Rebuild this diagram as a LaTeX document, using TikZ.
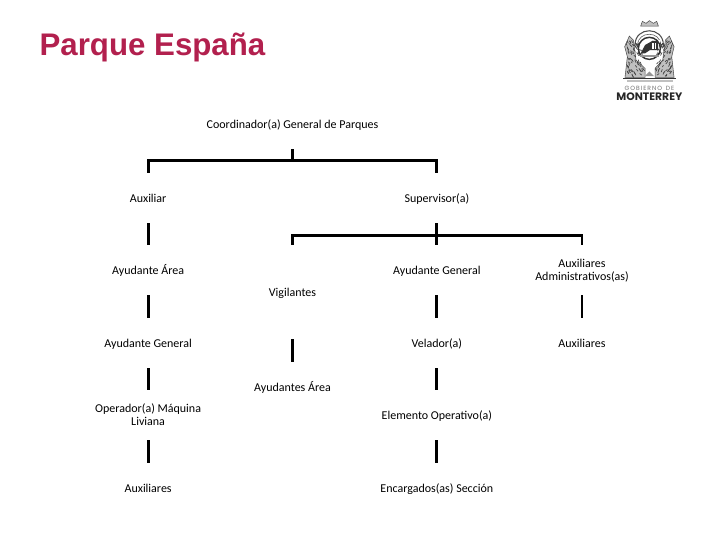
\documentclass[tikz,border=0pt]{standalone}
\usepackage{fontspec}
\setmainfont{Carlito}
\newfontfamily\titlefont{Liberation Sans}
\newfontfamily\logofont{Poppins}
\usepackage{xcolor}
\usepackage{tikz}
\usetikzlibrary{calc}
\definecolor{parquered}{RGB}{178,32,78}
\definecolor{crestgray}{RGB}{150,150,150}
\tikzstyle{orgbox} = [inner sep=0pt, minimum width=3cm, minimum height=1.33cm, align=center, text height=7.4pt, text depth=0.8pt, font=\fontsize{9.1}{9.9}\selectfont]
\tikzstyle{tworow} = [orgbox, text height=17.3pt]
\tikzstyle{tallbox} = [orgbox, minimum height=2.5cm]
\tikzstyle{link} = [line width=2.2pt]
\tikzstyle{crest} = [line width=0.4pt, draw=black!70, fill=crestgray!60]

\begin{document}
\begin{tikzpicture}[x=1cm,y=1cm]
    \useasboundingbox (0,0) rectangle (19.2,14.4);
    \node[anchor=west, inner sep=0pt, text=parquered, font=\titlefont\bfseries\fontsize{23.7}{28}\selectfont] (title) at (1.05,13.14) {Parque España};

    % left branch
    \node[orgbox] (coord) at (7.8,11.09) {Coordinador(a) General de Parques};
    \node[orgbox] (aux) at (3.95,9.12) {Auxiliar};
    \node[orgbox] (ayarea) at (3.95,7.2) {Ayudante Área};
    \node[orgbox] (aygenl) at (3.95,5.25) {Ayudante General};
    \node[tworow] (oper) at (3.95,3.33) {Operador(a) Máquina\\Liviana};
    \node[orgbox] (auxl) at (3.95,1.39) {Auxiliares};

    % middle branch
    \node[tallbox] (vig) at (7.8,6.61) {Vigilantes};
    \node[orgbox] (ayareas) at (7.8,4.08) {Ayudantes Área};

    % supervisor branch
    \node[orgbox] (sup) at (11.65,9.12) {Supervisor(a)};
    \node[orgbox] (aygen) at (11.65,7.2) {Ayudante General};
    \node[orgbox] (vel) at (11.65,5.25) {Velador(a)};
    \node[orgbox] (elem) at (11.65,3.33) {Elemento Operativo(a)};
    \node[orgbox] (enc) at (11.65,1.39) {Encargados(as) Sección};

    % right branch
    \node[tworow] (adm) at (15.52,7.2) {Auxiliares\\Administrativos(as)};
    \node[orgbox] (auxr) at (15.52,5.25) {Auxiliares};

    \coordinate (topbar) at (7.8,10.11);
    \coordinate (supbar) at (11.65,8.13);

    \draw[link] (coord.south) -- (topbar);
    \draw[link] (aux.north) |- (topbar) -| (sup.north);
    \draw[link] (sup.south) -- (aygen.north);
    \draw[link] (vig.north) |- (supbar) -| (adm.north);

    \draw[link] (aux.south) -- (ayarea.north);
    \draw[link] (ayarea.south) -- (aygenl.north);
    \draw[link] (aygenl.south) -- (oper.north);
    \draw[link] (oper.south) -- (auxl.north);
    \draw[link] (vig.south) -- (ayareas.north);
    \draw[link] (aygen.south) -- (vel.north);
    \draw[link] (vel.south) -- (elem.north);
    \draw[link] (elem.south) -- (enc.north);
    \draw[link] (adm.south) -- (auxr.north);

    % crest
    \begin{scope}[shift={(15.733,14.4)}, x=0.00889cm, y=-0.00889cm]
        \pgfmathsetseed{7}
        \filldraw[crest] (152,78) -- (157,64) -- (168,70) -- (178,62) -- (190,70) -- (200,64) -- (205,78) -- cycle;
        \draw[line width=0.8pt, black!70] (135,135) .. controls (135,78) and (220,78) .. (220,135);
        \draw[line width=0.5pt, black!60] (143,135) .. controls (143,92) and (212,92) .. (212,135);
        \filldraw[crest] (118,108) -- (130,120) -- (138,180) -- (165,205) -- (165,232) -- (105,232) -- (112,170) -- (104,140) -- cycle;
        \filldraw[crest] (238,108) -- (226,120) -- (218,180) -- (195,205) -- (195,232) -- (252,232) -- (245,170) -- (252,140) -- cycle;
        % stipple on the figures
        \foreach \i in {1,...,70} {
            \pgfmathsetmacro{\sx}{108+rnd*50}
            \pgfmathsetmacro{\sy}{115+rnd*112}
            \draw[line width=0.5pt, black!75] (\sx,\sy) -- ++(2+rnd*5,4+rnd*6);
            \draw[line width=0.5pt, black!75] (356-\sx,\sy) -- ++(-2-rnd*5,4+rnd*6);
        }
        \fill[white] (146,120) -- (166,185) -- (170,205) -- (188,205) -- (192,185) -- (212,120) -- cycle;
        \draw[line width=1.1pt, black!80] (178,145) circle (33);
        \fill[black!80] (152,160) -- (165,135) -- (188,122) -- (203,124) -- (205,150) -- (180,150) -- (165,160) -- cycle;
        \fill[white] (187,128) rectangle (191,148);
        \fill[white] (196,128) rectangle (199,148);
        \fill[crestgray] (150,164) rectangle (206,172);
        \fill[black!80] (100,234) rectangle (258,238);
        \fill[crestgray] (165,228) -- (178,214) -- (192,228) -- cycle;
        \fill[crestgray!60] (110,240) rectangle (248,245);
        \node[anchor=center, inner sep=0pt, font=\logofont\fontsize{4.6}{5}\selectfont, text=black!55] (gob) at (178,266) {G\,O\,B\,I\,E\,R\,N\,O\,\ \,D\,E};
        \node[anchor=center, inner sep=0pt, font=\logofont\bfseries\fontsize{8.2}{9}\selectfont, text=black!85] (mty) at (178,291) {MONTERREY};
    \end{scope}
\end{tikzpicture}
\end{document}
